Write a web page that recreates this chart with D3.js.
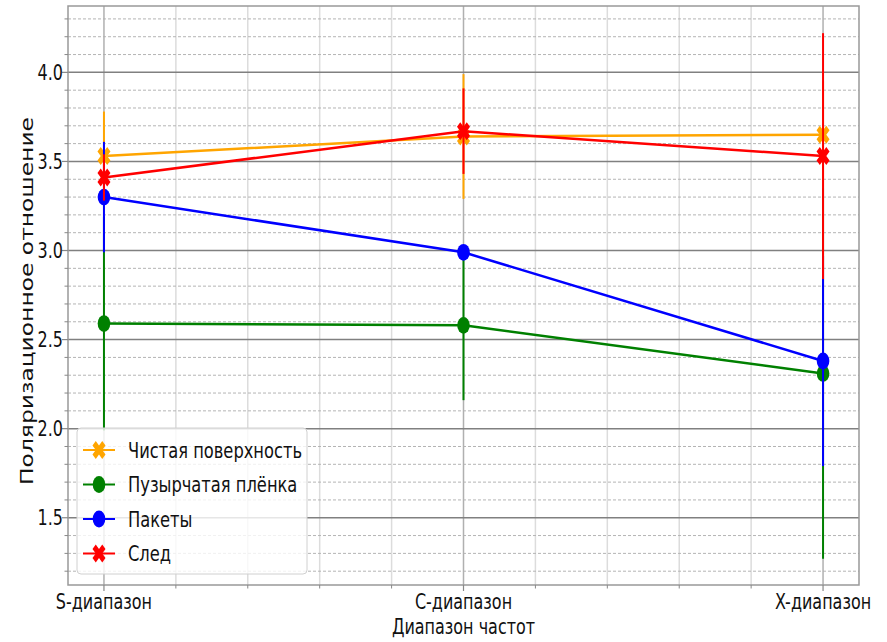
<!DOCTYPE html>
<html><head><meta charset="utf-8">
<script src="https://cdn.jsdelivr.net/npm/d3@7"></script>
<style>body{margin:0;background:#fff} svg{display:block} text{font-family:"DejaVu Sans",sans-serif;fill:#111}</style>
</head><body><svg id="c" width="887" height="642"></svg>
<script>
// ---- data ----
const categories = ["S-диапазон", "C-диапазон", "X-диапазон"];
const seriesNames = ["Чистая поверхность", "Пузырчатая плёнка", "Пакеты", "След"];
const cleanValues = [3.53, 3.64, 3.65];
const cleanErrors = [0.25, 0.35, 0.30];
const bubbleValues = [2.59, 2.58, 2.31];
const bubbleErrors = [0.60, 0.42, 1.04];
const packetValues = [3.30, 2.99, 2.38];
const packetErrors = [0.31, 0.02, 0.59];
const traceValues = [3.41, 3.67, 3.53];
const traceErrors = [0.13, 0.24, 0.69];
const yTicks = [1.5, 2.0, 2.5, 3.0, 3.5, 4.0];
const xLabel = "Диапазон частот";
const yLabel = "Поляризационное отношение";

// ---- styles ----
const colors = ["#FFA500", "#008000", "#0000FF", "#FF0000"];
const markers = ["X", "o", "o", "X"];
const series = [
  {name: seriesNames[0], values: cleanValues, errors: cleanErrors},
  {name: seriesNames[1], values: bubbleValues, errors: bubbleErrors},
  {name: seriesNames[2], values: packetValues, errors: packetErrors},
  {name: seriesNames[3], values: traceValues, errors: traceErrors}
].map((s, i) => Object.assign(s, {color: colors[i], marker: markers[i]}));

const S = 1.3; // vertical stretch of the original picture
const svg = d3.select("#c");
const L = 68, R = 859, T = 6, B = 585;
const x = d3.scaleLinear().domain([-0.1, 2.1]).range([L, R]);
const y = d3.scaleLinear().domain([1.1225, 4.3725]).range([B, T]);

function stext(g, px, py, str, size, anchor) {
  return g.append("text").attr("transform", `translate(${px},${py}) scale(1,${S})`)
    .attr("text-anchor", anchor).style("font-size", size + "px").text(str);
}

// ---- grid ----
const grid = svg.append("g");
const minorX = d3.range(1, 11).map(d => d / 5).filter(d => Math.abs(d - Math.round(d)) > 1e-6);
const minorY = d3.range(12, 44).map(d => d / 10).filter(d => Math.abs(d * 2 - Math.round(d * 2)) > 1e-6);
grid.selectAll(".mx").data(minorX).join("line")
  .attr("x1", d => x(d)).attr("x2", d => x(d)).attr("y1", T).attr("y2", B)
  .attr("stroke", "#dcdcdc").attr("stroke-width", 1.5);
grid.selectAll(".my").data(minorY).join("line")
  .attr("x1", L).attr("x2", R).attr("y1", d => y(d)).attr("y2", d => y(d))
  .attr("stroke", "#b4b4b4").attr("stroke-width", 1).attr("stroke-dasharray", "3,2");
grid.selectAll(".Mx").data([0, 1, 2]).join("line")
  .attr("x1", d => x(d)).attr("x2", d => x(d)).attr("y1", T).attr("y2", B)
  .attr("stroke", "#b0b0b0").attr("stroke-width", 1.5);
grid.selectAll(".My").data(yTicks).join("line")
  .attr("x1", L).attr("x2", R).attr("y1", d => y(d)).attr("y2", d => y(d))
  .attr("stroke", "#808080").attr("stroke-width", 1.5);

// ---- markers ----
const xPts = [[0.25,0],[0.5,0.25],[0.25,0.5],[0,0.25],[-0.25,0.5],[-0.5,0.25],[-0.25,0],[-0.5,-0.25],[-0.25,-0.5],[0,-0.25],[0.25,-0.5],[0.5,-0.25]];
function drawMarker(g, type, cx, cy, color) {
  if (type === "o") {
    g.append("ellipse").attr("cx", cx).attr("cy", cy).attr("rx", 6.3).attr("ry", 8.4).attr("fill", color);
  } else {
    const w = 13, h = 18;
    g.append("path").attr("d", "M" + xPts.map(p => [cx + p[0] * w, cy - p[1] * h].join(",")).join("L") + "Z")
      .attr("fill", color);
  }
}

// ---- series ----
const plot = svg.append("g");
const line = d3.line().x((d, i) => x(i)).y(d => y(d));
series.forEach(s => {
  const g = plot.append("g");
  g.append("path").attr("d", line(s.values)).attr("fill", "none")
    .attr("stroke", s.color).attr("stroke-width", 2.5);
  s.values.forEach((v, i) => {
    g.append("line").attr("x1", x(i)).attr("x2", x(i))
      .attr("y1", y(v - s.errors[i])).attr("y2", y(v + s.errors[i]))
      .attr("stroke", s.color).attr("stroke-width", 2);
  });
  s.values.forEach((v, i) => drawMarker(g, s.marker, x(i), y(v), s.color));
});

// ---- spines & ticks ----
const ax = svg.append("g");
ax.append("rect").attr("x", L).attr("y", T).attr("width", R - L).attr("height", B - T)
  .attr("fill", "none").attr("stroke", "#999").attr("stroke-width", 1.5);
ax.selectAll(".tyM").data(yTicks).join("line")
  .attr("x1", L - 6).attr("x2", L).attr("y1", d => y(d)).attr("y2", d => y(d)).attr("stroke", "#888").attr("stroke-width", 1.2);
ax.selectAll(".tym").data(minorY).join("line")
  .attr("x1", L - 3.5).attr("x2", L).attr("y1", d => y(d)).attr("y2", d => y(d)).attr("stroke", "#888").attr("stroke-width", 1);
ax.selectAll(".txM").data([0, 1, 2]).join("line")
  .attr("x1", d => x(d)).attr("x2", d => x(d)).attr("y1", B).attr("y2", B + 6).attr("stroke", "#888").attr("stroke-width", 1.2);
ax.selectAll(".txm").data(minorX).join("line")
  .attr("x1", d => x(d)).attr("x2", d => x(d)).attr("y1", B).attr("y2", B + 3.5).attr("stroke", "#888").attr("stroke-width", 1);

yTicks.forEach(t => stext(ax, 63, y(t) + 7.4, d3.format(".1f")(t), 16, "end"));
categories.forEach((c, i) => stext(ax, x(i), 609, c, 16, "middle"));
stext(ax, x(1), 634, xLabel, 16, "middle");
ax.append("text").attr("transform", `translate(33,301) rotate(-90) scale(${S},1)`)
  .attr("text-anchor", "middle").style("font-size", "18px").text(yLabel);

// ---- legend ----
const lg = svg.append("g");
lg.append("rect").attr("x", 77).attr("y", 428).attr("width", 230).attr("height", 146).attr("rx", 4)
  .attr("fill", "#fff").attr("fill-opacity", 0.8).attr("stroke", "#d0d0d0").attr("stroke-width", 1);
series.forEach((s, i) => {
  const cy = 450 + i * 34.5;
  lg.append("line").attr("x1", 83).attr("x2", 115).attr("y1", cy).attr("y2", cy)
    .attr("stroke", s.color).attr("stroke-width", 2);
  drawMarker(lg, s.marker, 99, cy, s.color);
  stext(lg, 128, cy + 7.5, s.name, 16.3, "start");
});
</script></body></html>
